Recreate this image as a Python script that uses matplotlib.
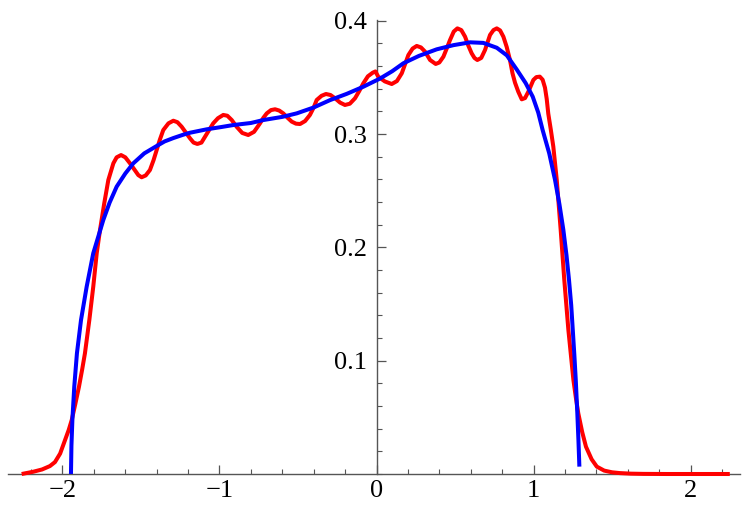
import matplotlib
matplotlib.use("Agg")
import matplotlib.pyplot as plt
from matplotlib.ticker import MultipleLocator, FixedLocator, FixedFormatter

# Red (oscillating) curve, (x, y)
red_points = [
    (-2.26, 0.0), (-2.186, 0.002), (-2.13, 0.004), (-2.08, 0.007), (-2.048, 0.0105),
    (-2.015, 0.018), (-1.984, 0.030), (-1.96, 0.039), (-1.941, 0.0477), (-1.918, 0.062),
    (-1.895, 0.077), (-1.875, 0.092), (-1.857, 0.1065), (-1.843, 0.121), (-1.829, 0.1359),
    (-1.804, 0.1653), (-1.782, 0.1948), (-1.761, 0.2154), (-1.734, 0.2389), (-1.708, 0.2595),
    (-1.676, 0.2742), (-1.655, 0.2795), (-1.627, 0.2815), (-1.60, 0.2795), (-1.570, 0.2742),
    (-1.538, 0.2680), (-1.517, 0.2638), (-1.496, 0.2619), (-1.47, 0.2635), (-1.443, 0.2683),
    (-1.42, 0.277), (-1.40, 0.286), (-1.38, 0.295), (-1.358, 0.3036), (-1.325, 0.3095),
    (-1.294, 0.3118), (-1.268, 0.3105), (-1.241, 0.3065), (-1.215, 0.3015), (-1.188, 0.2963),
    (-1.165, 0.2925), (-1.141, 0.2913), (-1.115, 0.2925), (-1.092, 0.2977), (-1.066, 0.3035),
    (-1.04, 0.3095), (-1.01, 0.314), (-0.976, 0.3169), (-0.95, 0.3162), (-0.922, 0.3124),
    (-0.891, 0.3065), (-0.855, 0.301), (-0.817, 0.2992), (-0.78, 0.302), (-0.742, 0.3095),
    (-0.72, 0.3145), (-0.699, 0.3183), (-0.672, 0.3212), (-0.646, 0.3219), (-0.62, 0.3208),
    (-0.594, 0.3183), (-0.567, 0.3145), (-0.540, 0.311), (-0.513, 0.3092), (-0.487, 0.3089),
    (-0.455, 0.3115), (-0.424, 0.3169), (-0.40, 0.3235), (-0.381, 0.3301), (-0.35, 0.3338),
    (-0.322, 0.3354), (-0.293, 0.3345), (-0.264, 0.3316), (-0.232, 0.3278), (-0.201, 0.3257),
    (-0.17, 0.3268), (-0.137, 0.3316), (-0.11, 0.338), (-0.084, 0.3448), (-0.055, 0.351),
    (-0.024, 0.3542), (-0.007, 0.3553), (0.011, 0.3507), (0.053, 0.3465), (0.097, 0.3442),
    (0.13, 0.3468), (0.161, 0.3537), (0.183, 0.362), (0.203, 0.3698), (0.23, 0.3755),
    (0.256, 0.3778), (0.283, 0.3765), (0.309, 0.3728), (0.341, 0.3654), (0.377, 0.3619),
    (0.40, 0.3632), (0.426, 0.3683), (0.447, 0.3755), (0.468, 0.383), (0.492, 0.3905),
    (0.515, 0.3933), (0.54, 0.3918), (0.564, 0.386), (0.585, 0.378), (0.606, 0.3713),
    (0.624, 0.3672), (0.642, 0.3654), (0.667, 0.3672), (0.691, 0.3742), (0.707, 0.381),
    (0.723, 0.3875), (0.745, 0.3918), (0.766, 0.3933), (0.787, 0.3915), (0.808, 0.386),
    (0.829, 0.377), (0.85, 0.3654), (0.866, 0.3537), (0.882, 0.3454), (0.903, 0.3374),
    (0.925, 0.3307), (0.946, 0.3318), (0.967, 0.3374), (0.983, 0.3425), (0.999, 0.3478),
    (1.018, 0.3503), (1.04, 0.3507), (1.058, 0.348), (1.073, 0.341), (1.084, 0.331),
    (1.094, 0.318), (1.11, 0.304), (1.126, 0.289), (1.148, 0.2595), (1.173, 0.2154),
    (1.196, 0.1712), (1.222, 0.1271), (1.254, 0.083), (1.27, 0.067), (1.285, 0.0536),
    (1.31, 0.037), (1.334, 0.0241), (1.37, 0.013), (1.403, 0.0065), (1.45, 0.003),
    (1.50, 0.0015), (1.55, 0.0008), (1.62, 0.0003), (1.70, 0.0001), (1.85, 0.0),
    (2.0, 0.0), (2.25, 0.0),
]

# Blue (smooth) curve, (x, y)
blue_points = [
    (-1.946, 0.0), (-1.943, 0.025), (-1.937, 0.0477), (-1.925, 0.077), (-1.908, 0.1065),
    (-1.882, 0.1359), (-1.846, 0.1653), (-1.804, 0.1948), (-1.74, 0.2242), (-1.70, 0.2395),
    (-1.655, 0.2536), (-1.60, 0.2652), (-1.549, 0.2742), (-1.479, 0.283), (-1.40, 0.2895),
    (-1.35, 0.2935), (-1.294, 0.2965), (-1.23, 0.2995), (-1.188, 0.3012), (-1.082, 0.3042),
    (-0.99, 0.3062), (-0.912, 0.308), (-0.80, 0.3098), (-0.721, 0.3124), (-0.60, 0.3152),
    (-0.508, 0.3183), (-0.40, 0.3235), (-0.296, 0.33), (-0.19, 0.3355), (-0.084, 0.3418),
    (0.022, 0.349), (0.10, 0.3555), (0.171, 0.3625), (0.27, 0.369), (0.383, 0.3748),
    (0.49, 0.3785), (0.596, 0.381), (0.68, 0.3805), (0.766, 0.3762), (0.83, 0.3695),
    (0.893, 0.357), (0.95, 0.345), (0.995, 0.333), (1.03, 0.319), (1.058, 0.3036),
    (1.10, 0.283), (1.137, 0.2595), (1.165, 0.238), (1.19, 0.2154), (1.21, 0.193),
    (1.226, 0.1712), (1.24, 0.149), (1.25, 0.1271), (1.26, 0.105), (1.269, 0.083),
    (1.279, 0.0536), (1.286, 0.03), (1.292, 0.0065),
]

red_x = [p[0] for p in red_points]
red_y = [p[1] for p in red_points]
blue_x = [p[0] for p in blue_points]
blue_y = [p[1] for p in blue_points]

x_major = [-2, -1, 0, 1, 2]
x_labels = ["\u22122", "\u22121", "0", "1", "2"]
y_major = [0.1, 0.2, 0.3, 0.4]
y_labels = ["0.1", "0.2", "0.3", "0.4"]

fig = plt.figure(figsize=(7.42, 5.07), dpi=100)
ax = fig.add_axes([8 / 742, 33 / 507, 732 / 742, 454 / 507])
ax.set_xlim(-2.347, 2.315)
ax.set_ylim(0, 0.4007)

ax.plot(red_x, red_y, color=(1, 0, 0), lw=2.9, clip_on=False, solid_capstyle="butt",
        solid_joinstyle="round", zorder=3)
ax.plot(blue_x, blue_y, color=(0, 0, 1), lw=2.9, clip_on=False, solid_capstyle="butt",
        solid_joinstyle="round", zorder=4)

axis_color = "#555555"
for s in ["top", "right"]:
    ax.spines[s].set_visible(False)
ax.spines["left"].set_position(("data", 0))
ax.spines["bottom"].set_position(("data", 0))
for s in ["left", "bottom"]:
    ax.spines[s].set_color(axis_color)
    ax.spines[s].set_linewidth(1.0)
    ax.spines[s].set_zorder(2)

ax.xaxis.set_major_locator(FixedLocator(x_major))
ax.xaxis.set_major_formatter(FixedFormatter(x_labels))
ax.xaxis.set_minor_locator(MultipleLocator(0.2))
ax.yaxis.set_major_locator(FixedLocator(y_major))
ax.yaxis.set_major_formatter(FixedFormatter(y_labels))
ax.yaxis.set_minor_locator(MultipleLocator(0.02))

ax.tick_params(which="major", direction="in", length=6.5, width=0.9, color=axis_color,
               labelsize=19)
ax.tick_params(which="minor", direction="in", length=3.5, width=0.8, color=axis_color)
ax.tick_params(axis="x", which="major", pad=4)
ax.tick_params(axis="y", which="major", pad=7)
for lbl in ax.get_xticklabels() + ax.get_yticklabels():
    lbl.set_family(["Liberation Serif", "DejaVu Serif"])

fig.savefig("out.png", dpi=100)
